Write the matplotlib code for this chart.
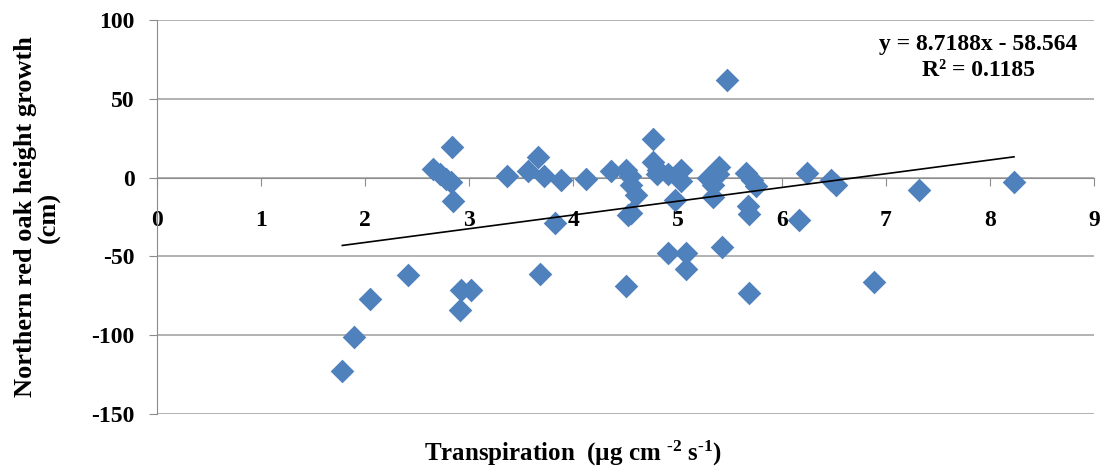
import matplotlib.pyplot as plt
import numpy as np

plt.rcParams['font.family'] = ['Liberation Serif', 'DejaVu Serif']
plt.rcParams['axes.unicode_minus'] = False
plt.rcParams['mathtext.fontset'] = 'custom'
plt.rcParams['mathtext.rm'] = 'Liberation Serif:bold'
plt.rcParams['mathtext.it'] = 'Liberation Serif:bold'
plt.rcParams['mathtext.default'] = 'regular'

# transpiration (x) vs height growth (y)
transpiration = [1.78, 1.89, 2.05, 2.41, 2.65, 2.72, 2.78, 2.82, 2.83, 2.84,
                 2.92, 3.02, 2.91, 3.36, 3.56, 3.66, 3.72, 3.88, 4.12, 3.82,
                 3.68, 4.36, 4.50, 4.54, 4.55, 4.60, 4.55, 4.52, 4.76, 4.76,
                 4.81, 4.80, 4.91, 5.03, 5.03, 4.97, 4.91, 5.08, 5.08, 4.50,
                 5.29, 5.34, 5.40, 5.39, 5.34, 5.43, 5.47, 5.66, 5.71, 5.75,
                 5.68, 5.69, 5.69, 6.24, 6.17, 6.47, 6.52, 7.32, 8.23, 6.89]
growth = [-123, -101, -77, -62, 5.5, 2, -1, -3, 19.5, -15,
          -71.5, -71.5, -84, 1.3, 4, 13, 1.3, -1.7, -1, -29,
          -61, 4, 5, 1, -4.5, -11, -22.5, -24, 24.5, 10,
          5, 2, 2, 5, -2.3, -14, -48, -48, -58, -69,
          0, -4.5, 7, 2, -12, -44, 62, 3, -1.7, -5.5,
          -18, -23, -73, 3, -26.6, -1.3, -4.4, -7.6, -2.7, -66]

slope, intercept = 8.7188, -58.564
r2 = 0.1185

fig = plt.figure(figsize=(11.03, 4.71), dpi=100)
ax = fig.add_axes([0.1423, 0.121, 0.8497, 0.8365])

ax.scatter(transpiration, growth, marker='D', s=145, color='#4F81BD', zorder=3, linewidths=0)

xs = np.array([min(transpiration), max(transpiration)])
ax.plot(xs, slope * xs + intercept, color='black', lw=1.2, zorder=4)

ax.set_xlim(0, 9)
ax.set_ylim(-150, 100)
ax.set_yticks([-150, -100, -50, 0, 50, 100])
ax.set_xticks(range(10))
ax.yaxis.grid(True, color='#A6A6A6', lw=1.2)
ax.set_axisbelow(True)

ax.spines['top'].set_visible(False)
ax.spines['right'].set_visible(False)
ax.spines['left'].set_color('#8C8C8C')
ax.spines['bottom'].set_color('#8C8C8C')
ax.spines['bottom'].set_position(('data', 0))
ax.tick_params(axis='y', colors='#8C8C8C', length=6, labelcolor='black', labelsize=17, pad=10)
ax.tick_params(axis='x', colors='#8C8C8C', length=6, labelcolor='black', labelsize=17, pad=17)
for lab in ax.get_xticklabels() + ax.get_yticklabels():
    lab.set_fontweight('bold')

ax.set_ylabel('Northern red oak height growth\n(cm)', fontsize=19, fontweight='bold', linespacing=1.0, labelpad=22)
fig.text(0.52, 0.022, 'Transpiration  (µg cm $^{\u2010 2}$ s$^{\u20101}$)', fontsize=18, fontweight='bold', ha='center')

fig.text(0.887, 0.905, f'y = {slope}x - {abs(intercept)}', fontsize=17, fontweight='bold', ha='center', va='center')
fig.text(0.887, 0.851, f'R² = {r2}', fontsize=17, fontweight='bold', ha='center', va='center')

fig.savefig('out.png', dpi=100)
